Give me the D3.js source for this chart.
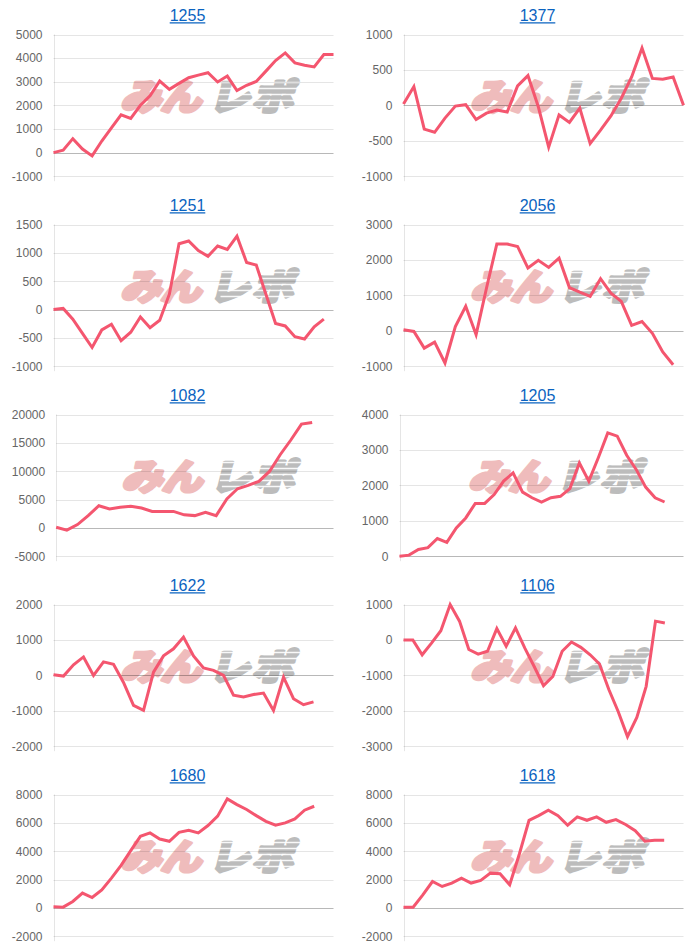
<!DOCTYPE html>
<html>
<head>
<meta charset="utf-8">
<script src="https://cdn.jsdelivr.net/npm/d3@7"></script>
<style>
  html, body { margin: 0; padding: 0; background: #fff; }
  svg { display: block; }
</style>
</head>
<body>
<svg id="chart" width="700" height="948"></svg>
<script>
// ---------- DATA ----------
const titles = ["1255", "1377", "1251", "2056", "1082", "1205", "1622", "1106", "1680", "1618"];
const labelCounts = [30, 28, 30, 28, 27, 31, 29, 31, 30, 30];

const ticks1255 = [5000, 4000, 3000, 2000, 1000, 0, -1000];
const ticks1377 = [1000, 500, 0, -500, -1000];
const ticks1251 = [1500, 1000, 500, 0, -500, -1000];
const ticks2056 = [3000, 2000, 1000, 0, -1000];
const ticks1082 = [20000, 15000, 10000, 5000, 0, -5000];
const ticks1205 = [4000, 3000, 2000, 1000, 0];
const ticks1622 = [2000, 1000, 0, -1000, -2000];
const ticks1106 = [1000, 0, -1000, -2000, -3000];
const ticks1680 = [8000, 6000, 4000, 2000, 0, -2000];
const ticks1618 = [8000, 6000, 4000, 2000, 0, -2000];

const s1255 = [0, 100, 590, 150, -140, 490, 1050, 1600, 1450, 2000, 2400, 3030, 2680, 2930, 3170, 3280, 3380, 2990, 3240, 2630, 2850, 3010, 3450, 3900, 4220, 3800, 3700, 3630, 4150, 4150];
const s1377 = [20, 265, -335, -380, -180, -10, 10, -200, -110, -65, -95, 275, 420, -20, -590, -135, -240, -40, -540, -350, -150, 100, 400, 810, 380, 370, 400, 0];
const s1251 = [0, 20, -170, -420, -670, -360, -260, -550, -400, -130, -320, -190, 270, 1160, 1210, 1040, 940, 1120, 1060, 1295, 830, 785, 270, -245, -290, -480, -520, -305, -170];
const s2056 = [30, -20, -490, -320, -910, 120, 690, -110, 1200, 2450, 2450, 2380, 1770, 1990, 1790, 2050, 1220, 1090, 970, 1470, 1060, 830, 150, 260, -70, -600, -960];
const s1082 = [100, -400, 580, 2160, 3900, 3330, 3630, 3800, 3500, 2900, 2900, 2900, 2300, 2160, 2750, 2160, 5090, 6900, 7500, 8200, 9950, 12900, 15500, 18300, 18600];
const s1205 = [0, 30, 190, 240, 500, 390, 800, 1080, 1490, 1490, 1740, 2120, 2350, 1810, 1650, 1530, 1650, 1690, 1910, 2630, 2120, 2780, 3480, 3390, 2850, 2450, 1950, 1650, 1530];
const s1622 = [20, -20, 300, 520, 0, 380, 310, -200, -850, -990, 90, 550, 750, 1080, 550, 210, 140, 0, -560, -610, -540, -500, -990, -50, -660, -830, -750];
const s1106 = [0, 0, -420, -90, 260, 1000, 530, -270, -400, -320, 320, -180, 340, -230, -750, -1290, -1030, -320, -60, -210, -420, -680, -1400, -2020, -2730, -2190, -1310, 530, 480];
const s1680 = [70, 50, 450, 1040, 730, 1270, 2100, 3000, 4040, 5050, 5290, 4860, 4700, 5330, 5480, 5290, 5810, 6470, 7690, 7290, 6940, 6510, 6110, 5830, 6000, 6280, 6890, 7170];
const s1618 = [50, 50, 920, 1860, 1510, 1750, 2100, 1750, 1940, 2450, 2410, 1630, 3800, 6180, 6510, 6890, 6510, 5830, 6420, 6180, 6420, 6040, 6230, 5880, 5450, 4700, 4770, 4770];

const seriesList = [s1255, s1377, s1251, s2056, s1082, s1205, s1622, s1106, s1680, s1618];
const tickList = [ticks1255, ticks1377, ticks1251, ticks2056, ticks1082, ticks1205, ticks1622, ticks1106, ticks1680, ticks1618];

// ---------- DRAW ----------
const svg = d3.select("#chart");
const FONT = "'Liberation Sans', Arial, Helvetica, sans-serif";
const LINE = "#f4566f";

const meas = svg.append("text").attr("font-family", FONT).attr("font-size", 12).attr("visibility", "hidden");
function tw(s) { meas.text(s); return meas.node().getComputedTextLength(); }

titles.forEach((title, i) => {
  const col = i % 2, row = Math.floor(i / 2);
  const x0 = col * 350, y0 = row * 190;
  const ticks = tickList[i];
  const data = seriesList[i];
  const fmt = d => String(d);
  const maxW = d3.max(ticks, t => tw(fmt(t)));
  const left = x0 + 22.8 + maxW;
  const right = x0 + 333.5;
  const top = y0 + 34.5;
  const bottom = top + 141.7;

  const g = svg.append("g");

  // title (link style)
  const tx = x0 + 187.5;
  const t = g.append("text")
    .attr("x", tx).attr("y", y0 + 20.5)
    .attr("text-anchor", "middle")
    .attr("font-family", FONT).attr("font-size", 16)
    .attr("fill", "#0a63c0")
    .text(title);
  const tWidth = t.node().getComputedTextLength();
  g.append("line")
    .attr("x1", tx - tWidth / 2).attr("x2", tx + tWidth / 2)
    .attr("y1", y0 + 22.8).attr("y2", y0 + 22.8)
    .attr("stroke", "#0a63c0").attr("stroke-width", 1.2);

  const x = d3.scalePoint().domain(d3.range(labelCounts[i])).range([left, right]);
  const y = d3.scaleLinear().domain([d3.min(ticks), d3.max(ticks)]).range([bottom, top]);

  // watermark
  const cx = (left + right) / 2 + 11;
  const wy = top + 75;
  const wm = g.append("g").attr("transform", `translate(${cx},${wy})`);
  wm.append("text")
    .attr("x", -4).attr("y", 0)
    .attr("text-anchor", "end")
    .attr("font-family", "'Noto Sans CJK JP', sans-serif")
    .attr("font-weight", 900)
    .attr("font-size", 38)
    .attr("letter-spacing", -1)
    .attr("transform", "skewX(-14) scale(1.08,0.95)")
    .attr("fill", "#efbcbc")
    .attr("stroke", "#efbcbc")
    .attr("stroke-width", 3.2)
    .attr("stroke-linejoin", "round")
    .text("みん");
  wm.append("text")
    .attr("x", 4).attr("y", 0)
    .attr("text-anchor", "start")
    .attr("font-family", "'Noto Sans CJK JP', sans-serif")
    .attr("font-weight", 900)
    .attr("font-size", 38)
    .attr("letter-spacing", 2)
    .attr("transform", "skewX(-14) scale(1.08,0.95)")
    .attr("fill", "#bcbcbc")
    .attr("stroke", "#bcbcbc")
    .attr("stroke-width", 3.2)
    .attr("stroke-linejoin", "round")
    .text("レポ");
  // speed lines over gray part
  [-27, -21, -15, -9, -3].forEach((dy, k) => {
    wm.append("line")
      .attr("x1", 8 + k * 2).attr("x2", 96)
      .attr("y1", dy).attr("y2", dy)
      .attr("stroke", "#fff").attr("stroke-width", 1.3).attr("opacity", 0.9);
  });

  // gridlines
  g.append("g")
    .selectAll("line")
    .data(ticks)
    .join("line")
    .attr("x1", left).attr("x2", right)
    .attr("y1", d => Math.round(y(d)) + 0.5).attr("y2", d => Math.round(y(d)) + 0.5)
    .attr("stroke", d => d === 0 ? "rgba(0,0,0,0.28)" : "rgba(0,0,0,0.1)")
    .attr("stroke-width", 1);

  // left axis line
  g.append("line")
    .attr("x1", Math.round(left) + 0.5).attr("x2", Math.round(left) + 0.5)
    .attr("y1", top).attr("y2", bottom + 5)
    .attr("stroke", "rgba(0,0,0,0.1)");

  // y axis labels
  const axis = d3.axisLeft(y).tickValues(ticks).tickSize(0).tickPadding(11).tickFormat(fmt);
  const ag = g.append("g").attr("transform", `translate(${left},0)`).call(axis);
  ag.select(".domain").remove();
  ag.selectAll("text").attr("font-family", FONT).attr("font-size", 12).attr("fill", "#666");

  // line
  const line = d3.line().x((d, k) => x(k)).y(d => y(d)).curve(d3.curveLinear);
  g.append("path")
    .datum(data)
    .attr("d", line)
    .attr("fill", "none")
    .attr("stroke", LINE)
    .attr("stroke-width", 3)
    .attr("stroke-linejoin", "miter")
    .attr("stroke-miterlimit", 4);
});
meas.remove();
</script>
</body>
</html>
